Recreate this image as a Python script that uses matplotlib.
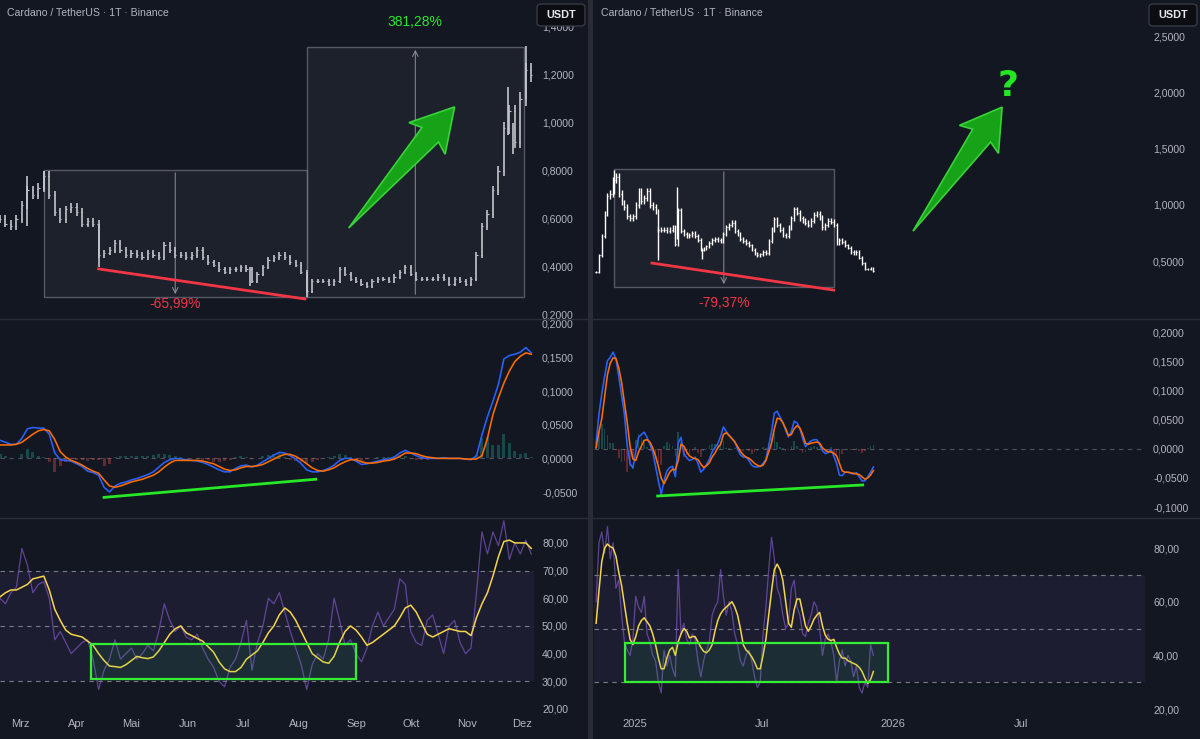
import numpy as np
import pandas as pd
import matplotlib
matplotlib.use('Agg')
import matplotlib.pyplot as plt
import matplotlib.dates as mdates
from matplotlib.patches import Rectangle, Polygon, FancyBboxPatch

# ================== DATA (left: 2024, 3-day steps) ==================
left_dates = pd.date_range('2024-02-19', periods=98, freq='3D')
left_close = [0.60, 0.58, 0.57, 0.60, 0.66, 0.72, 0.70, 0.73, 0.78, 0.70,
              0.63, 0.60, 0.64, 0.65, 0.63, 0.58, 0.59, 0.58, 0.45, 0.46,
              0.47, 0.50, 0.47, 0.45, 0.46, 0.45, 0.44, 0.46, 0.45, 0.44,
              0.49, 0.47, 0.45, 0.45, 0.44, 0.45, 0.47, 0.44, 0.42, 0.41,
              0.39, 0.38, 0.39, 0.39, 0.40, 0.39, 0.34, 0.37, 0.40, 0.43,
              0.44, 0.45, 0.44, 0.42, 0.41, 0.38, 0.30, 0.34, 0.34, 0.34,
              0.33, 0.34, 0.39, 0.37, 0.35, 0.34, 0.33, 0.32, 0.34, 0.35,
              0.35, 0.34, 0.36, 0.38, 0.40, 0.37, 0.35, 0.35, 0.35, 0.35,
              0.36, 0.35, 0.33, 0.35, 0.34, 0.33, 0.35, 0.45, 0.57, 0.62,
              0.72, 0.80, 0.98, 1.05, 0.92, 1.10, 1.22, 1.20]
left_wick_dates = ['2024-03-05', '2024-03-14', '2024-04-13', '2024-07-05',
                   '2024-08-05', '2024-11-23', '2024-11-26', '2024-12-03']
left_wick_low = [0.57, 0.72, 0.40, 0.32, 0.275, 0.95, 0.87, 1.10]
left_wick_high = [0.78, 0.80, 0.58, 0.40, 0.38, 1.15, 1.00, 1.32]
left_macd = [0.027, 0.024, 0.021, 0.021, 0.030, 0.044, 0.046, 0.045, 0.045, 0.036,
             0.008, -0.002, -0.003, -0.004, -0.008, -0.012, -0.019, -0.021, -0.025, -0.043,
             -0.050, -0.041, -0.037, -0.035, -0.032, -0.030, -0.027, -0.024, -0.020, -0.013,
             -0.006, -0.002, 0.000, -0.001, -0.002, -0.003, -0.004, -0.006, -0.009, -0.013,
             -0.017, -0.020, -0.020, -0.015, -0.011, -0.010, -0.013, -0.010, -0.005, 0.000,
             0.005, 0.009, 0.008, 0.004, -0.001, -0.008, -0.017, -0.020, -0.020, -0.018,
             -0.015, -0.010, -0.003, 0.000, 0.000, -0.004, -0.009, -0.008, -0.006, -0.004,
             -0.002, -0.001, 0.002, 0.008, 0.012, 0.008, 0.004, 0.001, 0.000, 0.000,
             0.000, 0.001, 0.000, 0.000, 0.000, -0.001, -0.002, 0.004, 0.035, 0.062,
             0.085, 0.110, 0.148, 0.153, 0.155, 0.158, 0.165, 0.157]
left_signal = [0.020, 0.020, 0.020, 0.021, 0.024, 0.030, 0.036, 0.041, 0.043, 0.041,
               0.028, 0.010, 0.002, -0.003, -0.006, -0.010, -0.015, -0.019, -0.022, -0.032,
               -0.041, -0.043, -0.041, -0.038, -0.035, -0.033, -0.031, -0.028, -0.025, -0.020,
               -0.013, -0.007, -0.003, -0.003, -0.003, -0.003, -0.003, -0.004, -0.006, -0.008,
               -0.012, -0.016, -0.018, -0.017, -0.014, -0.012, -0.012, -0.011, -0.009, -0.005,
               -0.001, 0.003, 0.006, 0.006, 0.003, -0.002, -0.008, -0.014, -0.018, -0.019,
               -0.017, -0.014, -0.009, -0.005, -0.002, -0.002, -0.005, -0.007, -0.007, -0.006,
               -0.004, -0.003, -0.001, 0.003, 0.008, 0.008, 0.007, 0.004, 0.002, 0.001,
               0.000, 0.000, 0.000, 0.000, 0.000, -0.001, -0.001, -0.001, 0.004, 0.030,
               0.065, 0.090, 0.112, 0.130, 0.144, 0.152, 0.157, 0.155]
left_rsi = [60, 58, 62, 64, 78, 72, 62, 65, 66, 60,
            45, 48, 44, 40, 42, 44, 45, 38, 27, 34,
            38, 45, 38, 40, 42, 38, 40, 43, 41, 48,
            58, 52, 48, 50, 46, 45, 47, 42, 38, 35,
            30, 28, 35, 38, 44, 52, 34, 44, 50, 60,
            58, 62, 55, 48, 42, 36, 27, 36, 40, 38,
            45, 60, 52, 43, 45, 40, 37, 42, 50, 55,
            50, 53, 56, 67, 65, 48, 44, 43, 52, 54,
            47, 40, 50, 52, 44, 40, 42, 62, 84, 76,
            84, 79, 88, 74, 80, 76, 81, 76]
left_rsi_ma = [60.5, 62, 63, 63, 64, 65, 67, 67.5, 68, 63,
               56, 52, 48.5, 47, 46.5, 46, 44.5, 43, 40, 37.5,
               35.5, 35.3, 35, 36, 37.5, 39, 38.5, 38.2, 38.8, 41,
               44, 47, 49, 50, 47.5, 46.5, 45.5, 44.5, 42.5, 40.5,
               37, 34.5, 33.5, 33.5, 35, 38, 39.5, 41, 44, 47.5,
               50, 54, 56.5, 55, 52, 48, 44, 40, 38.5, 37,
               36.5, 39, 44, 48, 50, 48.5, 46, 43, 44, 45.5,
               47, 48.5, 50, 53, 56.5, 57.5, 55, 51, 47, 46,
               47, 48, 49, 48.5, 48, 48, 46.5, 53, 58, 62,
               68, 75, 80.5, 81, 80, 80, 80, 78]

# ================== DATA (right: 2024-11 .. 2025-12, 4-day steps) ==================
right_dates = pd.date_range('2024-11-08', periods=99, freq='4D')
right_close = [0.40, 0.55, 0.72, 0.92, 1.08, 1.10, 1.22, 1.25, 1.10, 1.02,
               0.98, 0.90, 0.88, 0.90, 1.00, 1.12, 1.03, 1.06, 1.12, 1.00,
               0.98, 0.94, 0.78, 0.78, 0.78, 0.77, 0.78, 0.80, 0.65, 0.95,
               0.77, 0.74, 0.72, 0.73, 0.75, 0.72, 0.69, 0.60, 0.61, 0.63,
               0.66, 0.69, 0.70, 0.69, 0.68, 0.74, 0.80, 0.82, 0.84, 0.77,
               0.74, 0.70, 0.68, 0.66, 0.64, 0.60, 0.57, 0.55, 0.56, 0.58,
               0.57, 0.68, 0.78, 0.87, 0.82, 0.78, 0.73, 0.72, 0.80, 0.88,
               0.96, 0.93, 0.88, 0.86, 0.84, 0.82, 0.86, 0.91, 0.92, 0.89,
               0.80, 0.82, 0.86, 0.85, 0.82, 0.66, 0.69, 0.67, 0.64, 0.62,
               0.58, 0.57, 0.58, 0.53, 0.48, 0.43, 0.43, 0.44, 0.41]
right_wick_dates = ['2024-12-03', '2025-02-03', '2025-03-02', '2025-04-07']
right_wick_low = [1.10, 0.51, 0.70, 0.52]
right_wick_high = [1.31, 0.80, 1.16, 0.62]
right_macd = [0.010, 0.060, 0.095, 0.125, 0.152, 0.158, 0.167, 0.155, 0.125, 0.092,
              0.060, 0.005, -0.025, -0.033, -0.005, 0.020, 0.025, 0.029, 0.020, 0.008,
              -0.005, -0.030, -0.055, -0.078, -0.055, -0.038, -0.032, -0.030, -0.048, 0.010,
              0.020, -0.008, -0.015, -0.020, -0.018, -0.014, -0.025, -0.040, -0.035, -0.027,
              -0.018, -0.005, 0.002, 0.009, 0.022, 0.038, 0.030, 0.024, 0.018, 0.013,
              0.000, -0.010, -0.014, -0.014, -0.020, -0.028, -0.031, -0.031, -0.030, -0.025,
              -0.018, 0.005, 0.030, 0.062, 0.065, 0.055, 0.046, 0.032, 0.021, 0.030,
              0.048, 0.045, 0.036, 0.018, 0.004, 0.010, 0.014, 0.016, 0.016, 0.008,
              -0.003, -0.008, -0.006, -0.001, -0.012, -0.025, -0.045, -0.046, -0.040, -0.040,
              -0.042, -0.043, -0.041, -0.048, -0.055, -0.055, -0.048, -0.040, -0.031]
right_signal = [0.002, 0.030, 0.052, 0.090, 0.128, 0.148, 0.157, 0.156, 0.140, 0.115,
                0.080, 0.045, 0.005, -0.017, -0.020, -0.005, 0.005, 0.015, 0.016, 0.012,
                0.002, -0.012, -0.030, -0.050, -0.060, -0.050, -0.040, -0.035, -0.036, -0.020,
                0.008, 0.005, -0.005, -0.012, -0.015, -0.017, -0.018, -0.026, -0.032, -0.029,
                -0.024, -0.014, -0.007, 0.002, 0.008, 0.025, 0.028, 0.023, 0.018, 0.012,
                0.004, -0.004, -0.010, -0.014, -0.016, -0.020, -0.025, -0.028, -0.030, -0.028,
                -0.020, -0.005, 0.010, 0.035, 0.053, 0.052, 0.045, 0.035, 0.023, 0.025,
                0.035, 0.040, 0.036, 0.025, 0.010, 0.008, 0.010, 0.011, 0.012, 0.010,
                0.002, -0.002, -0.005, -0.005, -0.007, -0.012, -0.025, -0.038, -0.040, -0.040,
                -0.041, -0.042, -0.043, -0.044, -0.048, -0.052, -0.050, -0.045, -0.037]
right_rsi = [60, 82, 86, 78, 88, 76, 82, 65, 68, 55,
             45, 42, 40, 46, 62, 58, 56, 62, 48, 45,
             40, 38, 30, 26, 42, 36, 40, 35, 32, 72,
             48, 52, 46, 44, 48, 46, 38, 32, 38, 42,
             45, 55, 58, 60, 72, 62, 55, 60, 56, 48,
             44, 38, 36, 40, 42, 38, 32, 28, 30, 48,
             58, 72, 84, 76, 65, 62, 55, 50, 52, 65,
             68, 58, 55, 48, 47, 52, 55, 60, 58, 50,
             40, 46, 48, 45, 40, 30, 38, 42, 36, 40,
             38, 32, 36, 28, 26, 30, 28, 44, 40]
right_rsi_ma = [52, 64, 75, 80, 81.5, 80.5, 80, 77, 71, 66,
                59, 52, 46, 44, 47, 51, 53, 54, 52.5, 51,
                48, 44, 39, 35, 35, 39, 42, 43, 40, 45,
                48, 50, 49, 46.5, 47, 47, 45, 43, 41.5, 41,
                42, 44, 49, 53, 55.5, 57, 58, 59, 60, 58,
                55, 50, 44, 42, 41, 39.5, 37.5, 35, 35, 40,
                46, 55, 64, 72, 74, 72, 68, 60, 52, 50.5,
                57, 61, 61, 56, 51, 49, 51, 53.5, 55, 56,
                51, 47.5, 46, 45.5, 46, 43, 40.5, 39, 39, 38,
                37.5, 37, 36.5, 35.5, 34, 31.5, 29.5, 31, 34]

TITLE = 'Cardano / TetherUS · 1T · Binance'
left_months = ['2024-03-01', '2024-04-01', '2024-05-01', '2024-06-01', '2024-07-01',
               '2024-08-01', '2024-09-01', '2024-10-01', '2024-11-01', '2024-12-01']
left_month_labels = ['Mrz', 'Apr', 'Mai', 'Jun', 'Jul', 'Aug', 'Sep', 'Okt', 'Nov', 'Dez']
right_months = ['2025-01-01', '2025-07-01', '2026-01-01', '2026-07-01']
right_month_labels = ['2025', 'Jul', '2026', 'Jul']

# ================== STYLE ==================
W, H = 1200, 739
BG = '#131722'
TXT = '#b2b5be'
GRAY = '#787b86'
plt.rcParams['font.family'] = ['Liberation Sans', 'DejaVu Sans']

fig = plt.figure(figsize=(W / 100, H / 100), dpi=100, facecolor=BG)


def add_ax(x0, y0, x1, y1):
    # pixel box, y measured from the top
    return fig.add_axes([x0 / W, 1 - y1 / H, (x1 - x0) / W, (y1 - y0) / H])


def fmt4(v):
    return f'{v:.4f}'.replace('.', ',')


def fmt2(v):
    return f'{v:.2f}'.replace('.', ',')


def style(ax, ticks, fmt, xlim, ylim):
    ax.set_facecolor(BG)
    for s in ax.spines.values():
        s.set_visible(False)
    ax.set_xlim(*xlim)
    ax.set_ylim(*ylim)
    ax.yaxis.tick_right()
    ax.set_yticks(ticks)
    ax.set_yticklabels([fmt(t) for t in ticks])
    ax.tick_params(axis='y', length=0, pad=5.8, labelsize=7.6, labelcolor=TXT)
    ax.tick_params(axis='x', length=0, labelbottom=False)


def dn(s):
    return mdates.date2num(pd.Timestamp(s))


def draw_bars(ax, dates, close, color, step, wd, wl, wh, lw):
    # OHLC-like bars: open = previous close, small visual spread around the body
    x = mdates.date2num(dates)
    c = np.asarray(close)
    o = np.r_[c[0], c[:-1]]
    lo = np.minimum(o, c) * 0.975
    hi = np.maximum(o, c) * 1.025
    ax.vlines(x, lo, hi, color=color, lw=lw, zorder=3)
    t = step * 0.22
    ax.hlines(o, x - t, x, color=color, lw=0.8, zorder=3)
    ax.hlines(c, x, x + t, color=color, lw=0.8, zorder=3)
    ax.vlines(mdates.date2num(pd.to_datetime(wd)), wl, wh, color=color, lw=lw, zorder=3)


def draw_macd(ax, dates, macd, signal, step):
    x = mdates.date2num(dates)
    m = np.asarray(macd)
    s = np.asarray(signal)
    hist = m - s
    ax.axhline(0, color=GRAY, ls=(0, (4, 4)), lw=0.8, alpha=0.6, zorder=1)
    ax.bar(x, hist, width=step * 0.55, color=np.where(hist >= 0, '#26a69a', '#ef5350'),
           alpha=0.35, zorder=2)
    ax.plot(x, m, color='#2962ff', lw=1.15, zorder=3)
    ax.plot(x, s, color='#ff6d00', lw=1.15, zorder=4)


def draw_rsi(ax, dates, rsi, rsi_ma):
    x = mdates.date2num(dates)
    ax.axhspan(30, 70, color='#7e57c2', alpha=0.1, lw=0, zorder=0)
    for lv in (70, 50, 30):
        ax.axhline(lv, color=GRAY, ls=(0, (4, 4)), lw=0.8, zorder=1)
    ax.plot(x, rsi, color='#7e57c2', lw=0.9, alpha=0.7, zorder=2)
    ax.plot(x, rsi_ma, color='#f5d64a', lw=1.1, zorder=3)


def measure(ax, d0, d1, p0, p1, up, label, lab_y, color):
    x0, x1 = dn(d0), dn(d1)
    ax.add_patch(Rectangle((x0, p0), x1 - x0, p1 - p0, facecolor=(0.47, 0.48, 0.53, 0.1),
                           edgecolor=(0.47, 0.48, 0.53, 0.65), lw=1, zorder=1))
    xc = (x0 + x1) / 2
    a, b = (p0, p1) if up else (p1, p0)
    ax.annotate('', xy=(xc, b), xytext=(xc, a),
                arrowprops=dict(arrowstyle='->', color=(0.6, 0.6, 0.65, 0.8), lw=0.8,
                                mutation_scale=10), zorder=1)
    ax.text(xc, lab_y, label, color=color, fontsize=10, ha='center', va='center', zorder=6)


def big_arrow(ax, tail, tip):
    tr = ax.transData
    t = tr.transform((dn(tail[0]), tail[1]))
    p = tr.transform((dn(tip[0]), tip[1]))
    v = p - t
    L = np.hypot(*v)
    u = v / L
    n = np.array([-u[1], u[0]])
    pts = [t, t + u * 0.77 * L + n * 11, t + u * 0.74 * L + n * 24, p,
           t + u * 0.74 * L - n * 24, t + u * 0.77 * L - n * 11]
    pts = tr.inverted().transform(np.array(pts))
    ax.add_patch(Polygon(pts, closed=True, facecolor='#17a317', edgecolor='#3ad13a',
                         lw=1.2, zorder=5))


def time_axis(ax, months, labels):
    ax.set_xticks([dn(m) for m in months])
    ax.set_xticklabels(labels)
    ax.tick_params(axis='x', labelbottom=True, labelsize=8, labelcolor=TXT, pad=5, length=0)


# ================== LEFT PANEL ==================
lx = (dn('2024-02-19'), dn('2024-12-07') + 0.5)
ap = add_ax(0, 0, 534, 318)
style(ap, [0.2, 0.4, 0.6, 0.8, 1.0, 1.2, 1.4], fmt4, lx, (0.1875, 1.5125))
measure(ap, '2024-03-14', '2024-08-05', 0.275, 0.804, False, '-65,99%', 0.246, '#f23645')
measure(ap, '2024-08-05', '2024-12-02', 0.275, 1.317, True, '381,28%', 1.421, '#2ee62e')
draw_bars(ap, left_dates, left_close, '#c3c5cc', 3, left_wick_dates, left_wick_low,
          left_wick_high, 1.2)
ap.plot([dn('2024-04-13'), dn('2024-08-04')], [0.392, 0.267], color='#f23645', lw=2, zorder=4)
big_arrow(ap, ('2024-08-28', 0.5625), ('2024-10-25', 1.067))

am = add_ax(0, 319, 534, 516)
style(am, [-0.05, 0.0, 0.05, 0.10, 0.15, 0.20], fmt4, lx, (-0.0857, 0.2074))
draw_macd(am, left_dates, left_macd, left_signal, 3)
am.plot([dn('2024-04-16'), dn('2024-08-10')], [-0.058, -0.031], color='#27e827', lw=2, zorder=5)

ar = add_ax(0, 518, 534, 712)
style(ar, [20, 30, 40, 50, 60, 70, 80], fmt2, lx, (18.9, 89))
draw_rsi(ar, left_dates, left_rsi, left_rsi_ma)
ar.add_patch(Rectangle((dn('2024-04-09'), 31), dn('2024-09-01') - dn('2024-04-09'), 12.5,
                       facecolor=(0.15, 0.75, 0.35, 0.1), edgecolor='#33ee33', lw=1.6, zorder=4))
time_axis(ar, left_months, left_month_labels)

# ================== RIGHT PANEL ==================
rx = (dn('2024-11-05'), dn('2026-12-24'))
bp = add_ax(594, 0, 1145, 318)
style(bp, [0.5, 1.0, 1.5, 2.0, 2.5], fmt4, rx, (-0.006, 2.82))
measure(bp, '2024-12-03', '2025-10-10', 0.269, 1.317, False, '-79,37%', 0.127, '#f23645')
draw_bars(bp, right_dates, right_close, '#ffffff', 4, right_wick_dates, right_wick_low,
          right_wick_high, 1.0)
bp.plot([dn('2025-01-26'), dn('2025-10-10')], [0.482, 0.242], color='#f23645', lw=2, zorder=4)
big_arrow(bp, ('2026-01-30', 0.766), ('2026-06-05', 1.868))
bp.text(dn('2026-06-13'), 2.06, '?', color='#22e622', fontsize=26, fontweight='bold',
        ha='center', va='center', family='DejaVu Sans', zorder=6)

bm = add_ax(594, 319, 1145, 516)
style(bm, [-0.10, -0.05, 0.0, 0.05, 0.10, 0.15, 0.20], fmt4, rx, (-0.1155, 0.224))
draw_macd(bm, right_dates, right_macd, right_signal, 4)
bm.plot([dn('2025-02-03'), dn('2025-11-20')], [-0.081, -0.062], color='#27e827', lw=2, zorder=5)

br = add_ax(594, 518, 1145, 712)
style(br, [20, 40, 60, 80], fmt2, rx, (18.9, 91.2))
draw_rsi(br, right_dates, right_rsi, right_rsi_ma)
br.add_patch(Rectangle((dn('2024-12-19'), 30), dn('2025-12-26') - dn('2024-12-19'), 14.5,
                       facecolor=(0.15, 0.75, 0.35, 0.1), edgecolor='#33ee33', lw=1.6, zorder=4))
time_axis(br, right_months, right_month_labels)

# ================== FRAME / LABELS ==================
fig.patches.append(Rectangle((588 / W, 0), 5 / W, 1, transform=fig.transFigure,
                             facecolor='#2a2c33', lw=0, zorder=1))
for yy in (318.5, 517.5):
    fig.lines.append(plt.Line2D([0, 588 / W], [1 - yy / H] * 2, transform=fig.transFigure,
                                color='#2a2e39', lw=1))
    fig.lines.append(plt.Line2D([593 / W, 1], [1 - yy / H] * 2, transform=fig.transFigure,
                                color='#2a2e39', lw=1))

for x0 in (537, 1149):
    fig.patches.append(FancyBboxPatch((x0 / W, 1 - 26 / H), 48 / W, 22 / H,
                                      boxstyle='round,pad=0,rounding_size=0.004',
                                      transform=fig.transFigure, facecolor='#0b0d13',
                                      edgecolor='#363a45', lw=1, zorder=2))
    fig.text((x0 + 24) / W, 1 - 15 / H, 'USDT', color='#e8e8ec', fontsize=7.8,
             fontweight='bold', ha='center', va='center', zorder=3)

for x0 in (7, 601):
    fig.text(x0 / W, 1 - 13 / H, TITLE, color=TXT, fontsize=7.6, ha='left', va='center')

fig.savefig('out.png', dpi=100, facecolor=BG)
